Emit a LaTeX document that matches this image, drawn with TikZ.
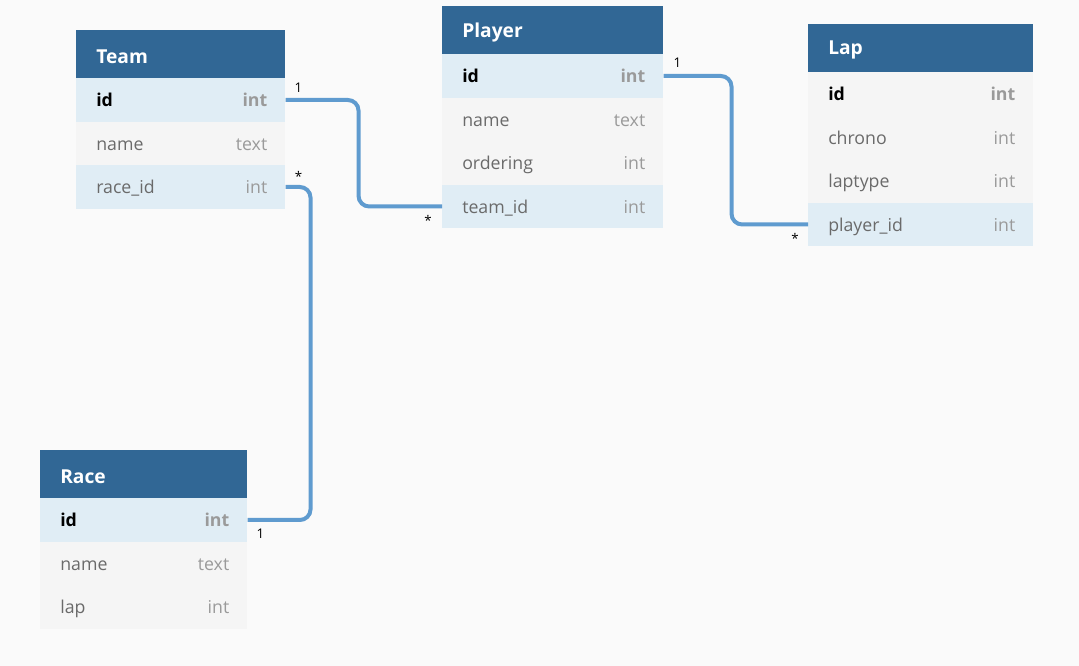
\documentclass[tikz,border=0pt]{standalone}
\usepackage{fontspec}
\setmainfont{Open Sans}
\usepackage{tikz}
\usetikzlibrary{positioning}
\definecolor{dbHead}{HTML}{316795}
\definecolor{dbBlue}{HTML}{E0EDF5}
\definecolor{dbGrey}{HTML}{F5F5F5}
\definecolor{dbCanvas}{HTML}{FAFAFA}
\definecolor{dbLink}{HTML}{5F9BCF}
\definecolor{dbText}{HTML}{6A6A6A}
\definecolor{dbType}{HTML}{9A9A9A}

\begin{document}
\begin{tikzpicture}[x=0.75pt, y=-0.75pt,
  cell/.style={anchor=north west, minimum height=32.6pt, inner sep=0pt},
  head/.style={cell, fill=dbHead, minimum height=36pt},
  title/.style={anchor=west, inner sep=0pt, yshift=-1.5pt, text=white, font=\bfseries\fontsize{14.4}{17}\selectfont},
  txt/.style={inner sep=0pt, yshift=-1.5pt, text height=9.6pt, text depth=2.8pt},
  key-name/.style={txt, anchor=west, text=black, font=\bfseries\fontsize{13.3}{16}\selectfont},
  key-type/.style={txt, anchor=east, text=dbType, font=\bfseries\fontsize{13.3}{16}\selectfont},
  col-name/.style={txt, anchor=west, text=dbText, font=\fontsize{13.3}{16}\selectfont},
  col-type/.style={txt, anchor=east, text=dbType, font=\fontsize{13.3}{16}\selectfont},
  link/.style={draw=dbLink, line width=3pt, rounded corners=8pt},
  card/.style={inner sep=0pt, font=\fontsize{10}{12}\selectfont}]
\fill[dbCanvas] (0,0) rectangle (1079,666);
% ---- Team ----
\node[head, minimum width=156.75pt] (team) at (76,30) {};
\node[title] at ([xshift=15pt]team.west) {Team};
\foreach \key/\lbl/\typ/\bg/\sty [count=\i] in {id/id/int/dbBlue/key, name/name/text/dbGrey/col, raceid/race\_id/int/dbBlue/col}{
  \node[cell, fill=\bg, minimum width=156.75pt] (team-\key) at (76,{78+(\i-1)*43.5}) {};
  \node[\sty-name] at ([xshift=15pt]team-\key.west) {\lbl};
  \node[\sty-type] at ([xshift=-13.5pt]team-\key.east) {\typ};
}
% ---- Player ----
\node[head, minimum width=165.75pt] (player) at (442,6) {};
\node[title] at ([xshift=15pt]player.west) {Player};
\foreach \key/\lbl/\typ/\bg/\sty [count=\i] in {id/id/int/dbBlue/key, name/name/text/dbGrey/col, ordering/ordering/int/dbGrey/col, teamid/team\_id/int/dbBlue/col}{
  \node[cell, fill=\bg, minimum width=165.75pt] (player-\key) at (442,{54+(\i-1)*43.5}) {};
  \node[\sty-name] at ([xshift=15pt]player-\key.west) {\lbl};
  \node[\sty-type] at ([xshift=-13.5pt]player-\key.east) {\typ};
}
% ---- Lap ----
\node[head, minimum width=168.75pt] (lap) at (808,24) {};
\node[title] at ([xshift=15pt]lap.west) {Lap};
\foreach \key/\lbl/\typ/\bg/\sty [count=\i] in {id/id/int/dbGrey/key, chrono/chrono/int/dbGrey/col, laptype/laptype/int/dbGrey/col, playerid/player\_id/int/dbBlue/col}{
  \node[cell, fill=\bg, minimum width=168.75pt] (lap-\key) at (808,{72+(\i-1)*43.5}) {};
  \node[\sty-name] at ([xshift=15pt]lap-\key.west) {\lbl};
  \node[\sty-type] at ([xshift=-13.5pt]lap-\key.east) {\typ};
}
% ---- Race ----
\node[head, minimum width=155.25pt] (race) at (40,450) {};
\node[title] at ([xshift=15pt]race.west) {Race};
\foreach \key/\lbl/\typ/\bg/\sty [count=\i] in {id/id/int/dbBlue/key, name/name/text/dbGrey/col, lap/lap/int/dbGrey/col}{
  \node[cell, fill=\bg, minimum width=155.25pt] (race-\key) at (40,{498+(\i-1)*43.5}) {};
  \node[\sty-name] at ([xshift=15pt]race-\key.west) {\lbl};
  \node[\sty-type] at ([xshift=-13.5pt]race-\key.east) {\typ};
}
% ---- references ----
\draw[link] (team-id.east) -- ++(73,0) |- (player-teamid.west);
\draw[link] (player-id.east) -- ++(68,0) |- (lap-playerid.west);
\draw[link] (team-raceid.east) -- ++(25,0) |- (race-id.east);
\node[card] (c1) at ([shift={(13,-12)}]team-id.east) {1};
\node[card] (c2) at ([shift={(-14,14)}]player-teamid.west) {*};
\node[card] (c3) at ([shift={(14,-13)}]player-id.east) {1};
\node[card] (c4) at ([shift={(-13,14)}]lap-playerid.west) {*};
\node[card] (c5) at ([shift={(13,-11)}]team-raceid.east) {*};
\node[card] (c6) at ([shift={(13,14)}]race-id.east) {1};
\end{tikzpicture}
\end{document}
